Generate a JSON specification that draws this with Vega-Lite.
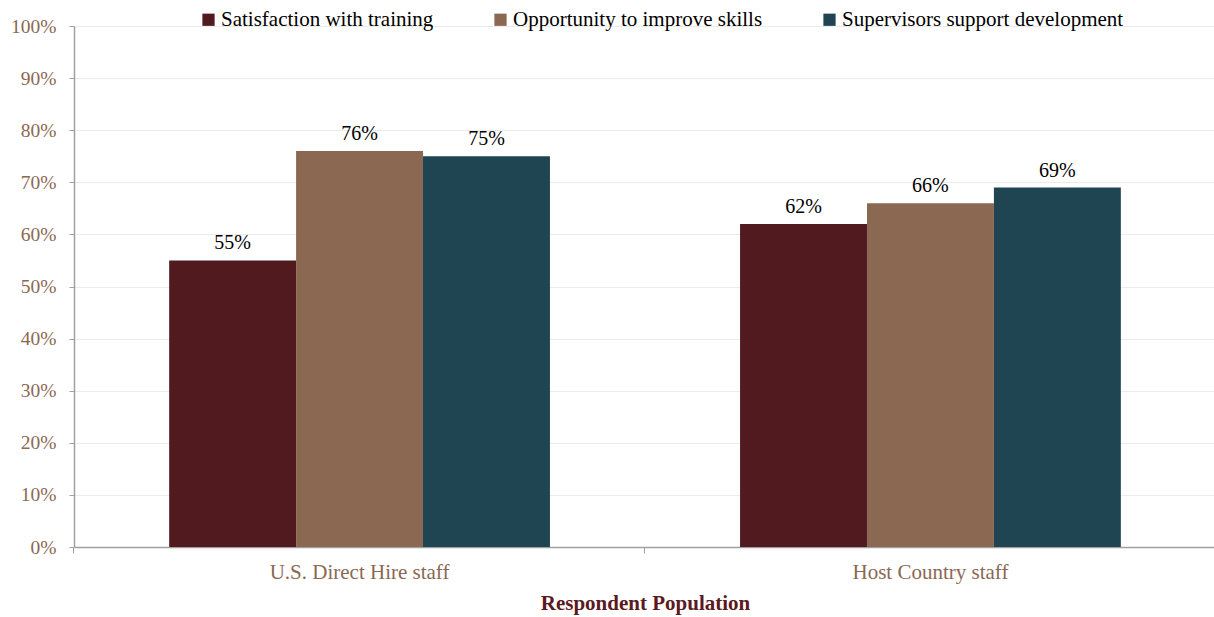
{
  "$schema": "https://vega.github.io/schema/vega-lite/v6.json",
  "width": 1142,
  "height": 521,
  "autosize": {"type": "none"},
  "padding": {"left": 74, "top": 26, "right": 0, "bottom": 70},
  "background": "white",
  "config": {"font": "Liberation Serif", "view": {"stroke": null}},
  "data": {
    "values": [
      {"population": "U.S. Direct Hire staff", "measure": "Satisfaction with training", "value": 0.55},
      {"population": "U.S. Direct Hire staff", "measure": "Opportunity to improve skills", "value": 0.76},
      {"population": "U.S. Direct Hire staff", "measure": "Supervisors support development", "value": 0.75},
      {"population": "Host Country staff", "measure": "Satisfaction with training", "value": 0.62},
      {"population": "Host Country staff", "measure": "Opportunity to improve skills", "value": 0.66},
      {"population": "Host Country staff", "measure": "Supervisors support development", "value": 0.69}
    ]
  },
  "encoding": {
    "x": {
      "field": "population",
      "type": "nominal",
      "sort": ["U.S. Direct Hire staff", "Host Country staff"],
      "scale": {"paddingInner": 0.333, "paddingOuter": 0.1667},
      "axis": {
        "title": "Respondent Population",
        "titleFontSize": 21,
        "titleFontWeight": "bold",
        "titleColor": "#5C1A1E",
        "titlePadding": 10,
        "labelAngle": 0,
        "labelFontSize": 21,
        "labelColor": "#8B6852",
        "labelPadding": 8,
        "labelFontWeight": "normal",
        "tickSize": 6,
        "tickColor": "#A0A0A0",
        "domainColor": "#A0A0A0",
        "domainWidth": 1.5,
        "bandPosition": -0.25,
        "grid": false
      }
    },
    "xOffset": {
      "field": "measure",
      "type": "nominal",
      "sort": ["Satisfaction with training", "Opportunity to improve skills", "Supervisors support development"],
      "scale": {"paddingInner": 0, "paddingOuter": 0}
    },
    "y": {
      "field": "value",
      "type": "quantitative",
      "scale": {"domain": [0, 1]},
      "axis": {
        "title": null,
        "format": ".0%",
        "values": [0, 0.1, 0.2, 0.3, 0.4, 0.5, 0.6, 0.7, 0.8, 0.9, 1],
        "labelFontSize": 19.5,
        "labelColor": "#8B6852",
        "labelPadding": 13,
        "tickSize": 5,
        "tickColor": "#A0A0A0",
        "domainColor": "#A0A0A0",
        "domainWidth": 1.5,
        "gridColor": "#EBEBEB",
        "gridWidth": 1
      }
    }
  },
  "layer": [
    {
      "mark": {"type": "bar"},
      "encoding": {
        "color": {
          "field": "measure",
          "type": "nominal",
          "scale": {
            "domain": ["Satisfaction with training", "Opportunity to improve skills", "Supervisors support development"],
            "range": ["#511A1E", "#8B6852", "#1F4452"]
          },
          "legend": {
            "orient": "none",
            "legendX": 124,
            "legendY": -17,
            "direction": "horizontal",
            "title": null,
            "symbolType": "square",
            "symbolSize": 150,
            "symbolStrokeWidth": 0,
            "labelFontSize": 21,
            "labelColor": "#000000",
            "labelLimit": 400,
            "labelOffset": 2,
            "columnPadding": 56
          }
        }
      }
    },
    {
      "mark": {"type": "text", "baseline": "bottom", "dy": -7, "fontSize": 20, "color": "#000000"},
      "encoding": {
        "text": {"field": "value", "type": "quantitative", "format": ".0%"}
      }
    }
  ]
}
